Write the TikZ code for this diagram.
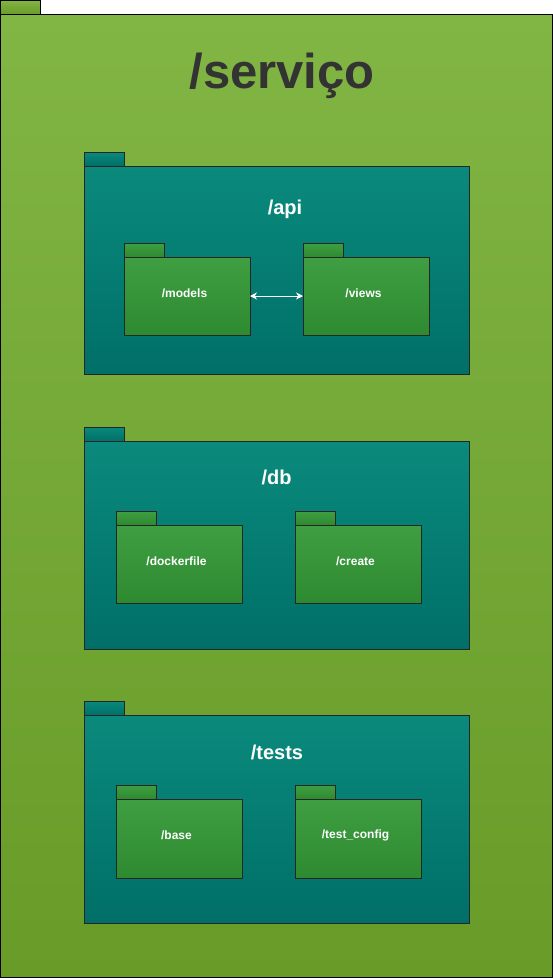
\documentclass[tikz,border=0pt]{standalone}
\usepackage{fontspec}
\setmainfont{Liberation Sans}
\usetikzlibrary{shadows, arrows.meta}

\definecolor{leaftop}{RGB}{129,181,68}
\definecolor{leafbot}{RGB}{104,155,40}
\definecolor{tealtop}{RGB}{10,138,124}
\definecolor{tealbot}{RGB}{0,111,104}
\definecolor{grasstop}{RGB}{63,158,66}
\definecolor{grassbot}{RGB}{46,138,48}
\definecolor{titlegray}{RGB}{51,51,51}

\tikzset{
	box/.style={draw=black, line width=1pt, inner sep=0pt, outer sep=0pt, anchor=north west},
	outer/.style={box, shading=axis, top color=leaftop, bottom color=leafbot},
	pkg/.style={box, shading=axis, top color=tealtop, bottom color=tealbot,
		draw=black!85, drop shadow={shadow xshift=1pt, shadow yshift=-1pt, opacity=.45}},
	sub/.style={box, shading=axis, top color=grasstop, bottom color=grassbot,
		draw=black!85, drop shadow={shadow xshift=1pt, shadow yshift=-1pt, opacity=.45}},
	sublabel/.style={text=white, font=\bfseries\fontsize{12}{14}\selectfont, xshift=-2.5pt, yshift=3pt},
	pkgtitle/.style={text=white, font=\bfseries\fontsize{20}{24}\selectfont}
}

\begin{document}
\begin{tikzpicture}[x=1pt, y=-1pt]
	\useasboundingbox (0,0) rectangle (553,978);

	% outer folder
	\node[outer, minimum width=40pt, minimum height=14pt](stab) at (0.5,0.5) {};
	\node[outer, minimum width=552pt, minimum height=963pt](svc) at (0.5,14.5) {};
	\node[text=titlegray, font=\bfseries\fontsize{49}{56}\selectfont](svct) at (282,76) {/servi\c{c}o};

	% /api
	\node[pkg, minimum width=40pt, minimum height=14pt](apitab) at (84,152) {};
	\node[pkg, minimum width=385pt, minimum height=208pt](api) at (84,166) {};
	\node[pkgtitle](apit) at (285,209) {/api};
	\node[sub, minimum width=40pt, minimum height=14pt](modtab) at (124,243) {};
	\node[sub, minimum width=126pt, minimum height=78pt](models) at (124,257) {};
	\node[sublabel](modelst) at (models.center) {/models};
	\node[sub, minimum width=40pt, minimum height=14pt](viewtab) at (303,243) {};
	\node[sub, minimum width=126pt, minimum height=78pt](views) at (303,257) {};
	\node[sublabel](viewst) at (views.center) {/views};
	\draw[{Stealth[length=7pt,width=7pt]}-{Stealth[length=7pt,width=7pt]}, draw=white, fill=white, line width=0.9pt](models.east) -- (views.west);

	% /db
	\node[pkg, minimum width=40pt, minimum height=14pt](dbtab) at (84,427) {};
	\node[pkg, minimum width=385pt, minimum height=208pt](db) at (84,441) {};
	\node[pkgtitle](dbt) at (276.5,477) {/db};
	\node[sub, minimum width=40pt, minimum height=14pt](docktab) at (116,511) {};
	\node[sub, minimum width=126pt, minimum height=78pt](dock) at (116,525) {};
	\node[sublabel](dockt) at (dock.center) {/dockerfile};
	\node[sub, minimum width=40pt, minimum height=14pt](createtab) at (295,511) {};
	\node[sub, minimum width=126pt, minimum height=78pt](create) at (295,525) {};
	\node[sublabel](createt) at (create.center) {/create};

	% /tests
	\node[pkg, minimum width=40pt, minimum height=14pt](teststab) at (84,701) {};
	\node[pkg, minimum width=385pt, minimum height=208pt](tests) at (84,715) {};
	\node[pkgtitle](testst) at (277,752) {/tests};
	\node[sub, minimum width=40pt, minimum height=14pt](basetab) at (116,785) {};
	\node[sub, minimum width=126pt, minimum height=79pt](base) at (116,799) {};
	\node[sublabel](baset) at (base.center) {/base};
	\node[sub, minimum width=40pt, minimum height=14pt](conftab) at (295,785) {};
	\node[sub, minimum width=126pt, minimum height=79pt](conf) at (295,799) {};
	\node[sublabel](conft) at (conf.center) {/test\_config};
\end{tikzpicture}
\end{document}
